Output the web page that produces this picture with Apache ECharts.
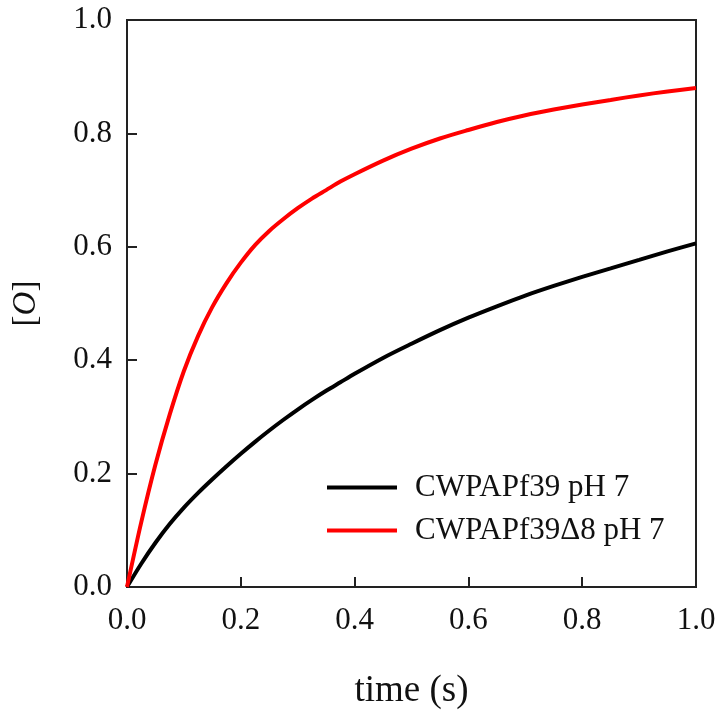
<!DOCTYPE html>
<html>
<head>
<meta charset="utf-8">
<script src="https://cdn.jsdelivr.net/npm/echarts@6/dist/echarts.min.js"></script>
<style>
html,body{margin:0;padding:0;background:#fff;}
#chart{width:723px;height:718px;}
</style>
</head>
<body>
<div id="chart"></div>
<script>
// Data
const timeValues = [0, 0.025, 0.05, 0.075, 0.10, 0.125, 0.15, 0.175, 0.2, 0.225, 0.25, 0.275, 0.3, 0.325, 0.35, 0.375, 0.4, 0.45, 0.5, 0.55, 0.6, 0.65, 0.7, 0.75, 0.8, 0.85, 0.9, 0.95, 1.0];
const blackValues = [0, 0.041, 0.078, 0.111, 0.140, 0.166, 0.190, 0.213, 0.235, 0.256, 0.276, 0.295, 0.313, 0.330, 0.346, 0.361, 0.376, 0.404, 0.429, 0.453, 0.475, 0.495, 0.514, 0.531, 0.547, 0.562, 0.577, 0.592, 0.606];
const redValues = [0, 0.114, 0.216, 0.304, 0.381, 0.443, 0.494, 0.536, 0.572, 0.603, 0.628, 0.649, 0.668, 0.685, 0.700, 0.715, 0.728, 0.752, 0.773, 0.791, 0.806, 0.820, 0.832, 0.842, 0.851, 0.859, 0.867, 0.874, 0.880];
const seriesNames = ['CWPAPf39 pH 7', 'CWPAPf39\u03948 pH 7'];
const xTickValues = [0, 0.2, 0.4, 0.6, 0.8, 1.0];
const yTickValues = [0, 0.2, 0.4, 0.6, 0.8, 1.0];

const FONT = '"Liberation Serif", "DejaVu Serif", serif';
const pairs = (xs, ys) => xs.map((x, i) => [x, ys[i]]);

const chart = echarts.init(document.getElementById('chart'), null, {renderer: 'canvas'});
chart.setOption({
  animation: false,
  backgroundColor: '#ffffff',
  grid: {left: 127, right: 27, top: 20, bottom: 131, show: true, borderColor: '#222', borderWidth: 2, containLabel: false},
  legend: {
    orient: 'vertical',
    left: 322,
    top: 467,
    itemWidth: 70,
    itemHeight: 4,
    itemGap: 12,
    icon: 'rect',
    data: seriesNames,
    textStyle: {fontFamily: FONT, fontSize: 31, color: '#111', padding: [0, 0, 0, 13], lineHeight: 31}
  },
  xAxis: {
    type: 'value', min: 0, max: 1, interval: 0.2,
    name: 'time (s)', nameLocation: 'middle', nameGap: 86,
    nameTextStyle: {fontFamily: FONT, fontSize: 37, color: '#111'},
    axisLine: {show: true, lineStyle: {color: '#222', width: 2}},
    axisTick: {show: true, inside: true, length: 10, lineStyle: {color: '#222', width: 2}},
    axisLabel: {fontFamily: FONT, fontSize: 31, color: '#111', margin: 18,
      formatter: v => xTickValues.some(t => Math.abs(t - v) < 1e-9) ? v.toFixed(1) : ''},
    splitLine: {show: false}
  },
  yAxis: {
    type: 'value', min: 0, max: 1, interval: 0.2,
    name: '{b|[}{i|O}{b|]}', nameLocation: 'middle', nameGap: 84,
    nameTextStyle: {fontFamily: FONT, fontSize: 33, color: '#111',
      rich: {b: {fontFamily: FONT, fontSize: 33, color: '#111'}, i: {fontFamily: FONT, fontSize: 33, fontStyle: 'italic', color: '#111'}}},
    axisLine: {show: true, lineStyle: {color: '#222', width: 2}},
    axisTick: {show: true, inside: true, length: 10, lineStyle: {color: '#222', width: 2}},
    axisLabel: {fontFamily: FONT, fontSize: 31, color: '#111', margin: 15,
      formatter: v => yTickValues.some(t => Math.abs(t - v) < 1e-9) ? v.toFixed(1) : ''},
    splitLine: {show: false}
  },
  series: [
    {name: seriesNames[0], type: 'line', data: pairs(timeValues, blackValues), smooth: 0.3, symbol: 'none',
     lineStyle: {color: '#000000', width: 4}, itemStyle: {color: '#000000'}},
    {name: seriesNames[1], type: 'line', data: pairs(timeValues, redValues), smooth: 0.3, symbol: 'none',
     lineStyle: {color: '#ff0000', width: 4}, itemStyle: {color: '#ff0000'}}
  ]
});
</script>
</body>
</html>
